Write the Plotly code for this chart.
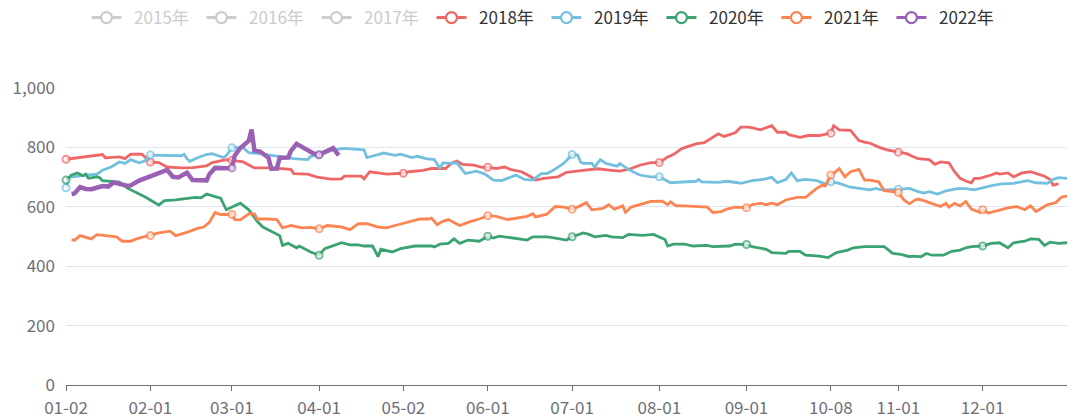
import plotly.graph_objects as go

# ---------------- data ----------------
label_days = ["01-02", "02-01", "03-01", "04-01", "05-02", "06-01",
              "07-01", "08-01", "09-01", "10-08", "11-01", "12-01"]

hidden_years = ["2015年", "2016年", "2017年"]

d2018 = ["01-02", "01-15", "01-16", "01-21", "01-23", "01-25", "01-29", "01-31",
         "02-01", "02-04", "02-07", "02-12", "02-16", "02-21", "02-23", "02-28",
         "03-01", "03-05", "03-09", "03-15", "03-22", "03-23", "03-28", "03-31",
         "04-05", "04-09", "04-10", "04-16", "04-17", "04-19", "04-22", "04-25",
         "05-02", "05-04", "05-09", "05-12", "05-17", "05-19", "05-21", "05-23", "05-27", "05-30",
         "06-01", "06-04", "06-07", "06-09", "06-13", "06-16", "06-18", "06-21", "06-26", "06-29",
         "07-05", "07-10", "07-15", "07-18", "07-22", "07-25", "07-29",
         "08-01", "08-04", "08-06", "08-09", "08-12", "08-14", "08-17", "08-19", "08-22", "08-24", "08-28", "08-30",
         "09-02", "09-06", "09-10", "09-12", "09-15", "09-16", "09-20", "09-23", "09-27", "09-30",
         "10-08", "10-09", "10-11", "10-15", "10-16", "10-18", "10-20", "10-22", "10-25", "10-28",
         "11-01", "11-04", "11-06", "11-08", "11-12", "11-14", "11-16", "11-19", "11-21", "11-23", "11-25", "11-27", "11-28", "11-30",
         "12-04", "12-06", "12-07", "12-10", "12-12", "12-15", "12-18", "12-21", "12-23", "12-25", "12-26", "12-28"]
v2018 = [760, 776, 765, 768, 762, 777, 777, 759,
         751, 749, 734, 731, 732, 738, 749, 759,
         757, 751, 731, 731, 726, 712, 710, 701,
         693, 694, 703, 703, 694, 718, 714, 710,
         713, 718, 723, 729, 729, 746, 754, 743, 740, 733,
         733, 729, 734, 726, 718, 703, 690, 696, 701, 716,
         723, 728, 723, 720, 729, 740, 749,
         749, 768, 776, 796, 807, 812, 816, 829, 846, 837, 849, 868,
         868, 859, 873, 851, 851, 843, 834, 840, 840, 846,
         848, 873, 859, 857, 846, 823, 818, 814, 801, 792,
         784, 779, 770, 762, 759, 743, 751, 748, 718, 696, 687, 681, 696, 696,
         707, 714, 710, 714, 701, 714, 718, 710, 703, 692, 673, 677]

d2019 = ["01-02", "01-03", "01-09", "01-13", "01-15", "01-18", "01-21", "01-23", "01-25", "01-28", "01-30",
         "02-01", "02-12", "02-13", "02-14", "02-15", "02-18", "02-21", "02-23", "02-27", "02-28",
         "03-01", "03-05", "03-07", "03-11", "03-15", "03-19", "03-23", "03-28", "03-29",
         "04-01", "04-05", "04-09", "04-11", "04-17", "04-18", "04-21", "04-24", "04-28", "04-30",
         "05-05", "05-07", "05-10", "05-13", "05-15", "05-16", "05-19", "05-21", "05-24", "05-28", "05-31",
         "06-03", "06-06", "06-09", "06-11", "06-14", "06-17", "06-20", "06-22", "06-24", "06-28",
         "07-01", "07-03", "07-04", "07-05", "07-08", "07-09", "07-11", "07-13", "07-17", "07-18", "07-21", "07-25", "07-29",
         "08-01", "08-05", "08-10", "08-14", "08-15", "08-16", "08-22", "08-25", "08-29", "08-30",
         "09-03", "09-07", "09-10", "09-12", "09-15", "09-17", "09-19", "09-22", "09-26", "09-29",
         "10-08", "10-11", "10-15", "10-18", "10-22", "10-24", "10-26",
         "11-01", "11-05", "11-08", "11-10", "11-12", "11-15", "11-18", "11-22", "11-25", "11-28",
         "12-02", "12-05", "12-08", "12-12", "12-17", "12-20", "12-24", "12-26", "12-28", "12-31"]
v2019 = [664, 699, 707, 710, 723, 734, 751, 746, 759, 748, 754,
         774, 772, 777, 762, 753, 766, 776, 779, 766, 772,
         799, 799, 782, 779, 773, 766, 762, 759, 770,
         775, 788, 796, 796, 792, 766, 773, 781, 773, 777,
         766, 770, 762, 759, 729, 748, 746, 748, 712, 720, 710,
         690, 688, 699, 707, 692, 690, 712, 712, 721, 746,
         776, 774, 751, 746, 746, 734, 759, 746, 737, 746, 726, 707, 701,
         701, 681, 684, 686, 692, 684, 682, 686, 681, 679,
         688, 692, 699, 681, 692, 714, 688, 692, 688, 677,
         684, 679, 666, 662, 657, 662, 657,
         659, 662, 651, 646, 651, 643, 654, 661, 661, 657,
         666, 673, 677, 679, 688, 681, 679, 692, 698, 696]

d2020 = ["01-02", "01-04", "01-06", "01-08", "01-09", "01-10", "01-13", "01-14", "01-15", "01-19", "01-21", "01-24", "01-30",
         "02-04", "02-06", "02-10", "02-14", "02-17", "02-19", "02-21", "02-24", "02-26", "02-28",
         "03-02", "03-04", "03-07", "03-10", "03-12", "03-16", "03-18", "03-19", "03-21", "03-24", "03-25", "03-29",
         "04-01", "04-03", "04-06", "04-09", "04-12", "04-15", "04-17", "04-20", "04-22", "04-23", "04-27", "04-30",
         "05-06", "05-12", "05-13", "05-15", "05-18", "05-20", "05-22", "05-25", "05-29",
         "06-01", "06-03", "06-05", "06-10", "06-15", "06-17", "06-22", "06-24", "06-29",
         "07-01", "07-05", "07-07", "07-09", "07-13", "07-15", "07-19", "07-21", "07-26", "07-30",
         "08-03", "08-04", "08-06", "08-10", "08-13", "08-18", "08-20", "08-26", "08-28",
         "09-01", "09-03", "09-08", "09-10", "09-13", "09-15", "09-16", "09-20", "09-22", "09-27", "09-30",
         "10-10", "10-14", "10-16", "10-20", "10-24", "10-27", "10-30",
         "11-02", "11-05", "11-06", "11-09", "11-11", "11-13", "11-17", "11-20", "11-23", "11-25", "11-27",
         "12-01", "12-04", "12-07", "12-10", "12-12", "12-16", "12-18", "12-21", "12-23", "12-25", "12-28", "12-31"]
v2020 = [690, 707, 714, 705, 710, 696, 701, 698, 688, 683, 683, 662, 634,
         606, 621, 623, 628, 632, 630, 643, 634, 629, 590,
         603, 612, 590, 551, 532, 514, 503, 470, 477, 462, 468, 448,
         437, 459, 468, 479, 472, 472, 468, 468, 432, 457, 448, 459,
         468, 468, 465, 474, 477, 492, 477, 488, 484,
         501, 495, 501, 495, 488, 499, 499, 496, 488,
         499, 512, 507, 499, 504, 499, 496, 507, 504, 507,
         490, 468, 474, 474, 468, 470, 466, 468, 474,
         473, 466, 457, 446, 443, 443, 450, 450, 437, 434, 429,
         446, 454, 462, 466, 466, 466, 443,
         440, 432, 434, 432, 443, 437, 437, 450, 454, 462, 466,
         468, 477, 479, 462, 479, 484, 492, 490, 470, 481, 477, 479]

d2021 = ["01-04", "01-05", "01-07", "01-11", "01-13", "01-17", "01-20", "01-22", "01-25", "01-27",
         "02-01", "02-04", "02-08", "02-10", "02-14", "02-18", "02-20", "02-22", "02-24", "02-26",
         "03-01", "03-02", "03-04", "03-07", "03-09", "03-10", "03-14", "03-17", "03-19", "03-22", "03-26", "03-29",
         "04-01", "04-04", "04-09", "04-12", "04-15", "04-18", "04-22", "04-25", "04-28", "04-30",
         "05-04", "05-08", "05-11", "05-12", "05-14", "05-16", "05-18", "05-22", "05-26", "05-29",
         "06-01", "06-04", "06-08", "06-11", "06-15", "06-17", "06-18", "06-22", "06-25", "06-28",
         "07-01", "07-04", "07-06", "07-08", "07-12", "07-14", "07-16", "07-19", "07-20", "07-22", "07-25", "07-29",
         "08-02", "08-04", "08-05", "08-07", "08-10", "08-14", "08-18", "08-20", "08-23", "08-25", "08-28",
         "09-01", "09-03", "09-06", "09-08", "09-10", "09-12", "09-15", "09-19", "09-22", "09-26", "09-28", "09-29",
         "10-08", "10-09", "10-11", "10-13", "10-15", "10-18", "10-20", "10-22", "10-25", "10-27", "10-30",
         "11-01", "11-03", "11-05", "11-07", "11-08", "11-10", "11-13", "11-16", "11-18", "11-19", "11-21", "11-23", "11-25", "11-27", "11-30",
         "12-01", "12-03", "12-07", "12-10", "12-13", "12-16", "12-18", "12-20", "12-24", "12-27", "12-29", "12-31"]
v2021 = [490, 487, 503, 492, 506, 501, 499, 484, 484, 492,
         503, 512, 518, 503, 514, 528, 532, 548, 581, 574,
         574, 557, 556, 576, 576, 559, 559, 557, 529, 537, 529, 531,
         526, 537, 532, 523, 543, 543, 532, 529, 537, 542,
         551, 559, 559, 562, 540, 551, 557, 537, 551, 559,
         570, 568, 557, 562, 568, 577, 566, 575, 601, 599,
         592, 604, 614, 590, 595, 607, 592, 603, 581, 599, 607, 618,
         619, 607, 617, 603, 603, 601, 599, 581, 584, 592, 599,
         597, 607, 612, 607, 612, 607, 623, 632, 632, 662, 673, 670,
         707, 712, 729, 701, 718, 726, 690, 690, 684, 654, 651,
         648, 623, 610, 623, 626, 621, 612, 601, 612, 599, 612, 603, 618, 592, 581,
         590, 579, 590, 596, 601, 590, 603, 584, 607, 614, 632, 637]

d2022 = ["01-04", "01-05", "01-07", "01-09", "01-11", "01-13", "01-15", "01-17", "01-19", "01-21", "01-24", "01-25", "01-28",
         "02-07", "02-09", "02-11", "02-14", "02-16", "02-21", "02-22", "02-24", "02-28",
         "03-01", "03-02", "03-03", "03-04", "03-07", "03-08", "03-09", "03-11", "03-14", "03-15", "03-17", "03-18",
         "03-21", "03-22", "03-24", "03-28", "03-30",
         "04-01", "04-04", "04-06", "04-08"]
v2022 = [643, 645, 666, 660, 659, 664, 670, 668, 682, 677, 670, 672, 688,
         724, 701, 699, 715, 690, 689, 710, 731, 730,
         731, 772, 787, 798, 822, 860, 790, 786, 765, 728, 729, 765,
         766, 788, 812, 792, 780,
         775, 789, 798, 773]

series = [
    ("2018年", d2018, v2018, "#ee6666", 2.8),
    ("2019年", d2019, v2019, "#73c0de", 2.8),
    ("2020年", d2020, v2020, "#3ba272", 2.8),
    ("2021年", d2021, v2021, "#fc8452", 2.8),
    ("2022年", d2022, v2022, "#9a60b4", 4.5),
]

YEAR = "2020-"  # dummy leap year used to place month-day categories
FONT = "Noto Sans CJK SC, Noto Sans, sans-serif"
AXIS_GREY = "#6E7079"
PAD = "\u00a0\u00a0"


def legend_label(text, color=None):
    if color:
        return f"{PAD}<span style='color:{color}'>{text}</span>{PAD}"
    return f"{PAD}{text}{PAD}"


fig = go.Figure()

# hidden (deselected) legend entries
for name in hidden_years:
    fig.add_trace(go.Scatter(
        x=[None], y=[None], mode="lines+markers",
        name=legend_label(name, "#cccccc"),
        line=dict(color="#cccccc", width=3),
        marker=dict(symbol="circle", size=11, color="white",
                    line=dict(color="#cccccc", width=2.2)),
        hoverinfo="skip"))

for name, days, vals, color, lw in series:
    sizes = [7 if d in label_days else 0 for d in days]
    mlw = [2 if d in label_days else 0 for d in days]
    fig.add_trace(go.Scatter(
        x=[YEAR + d for d in days], y=vals, mode="lines+markers",
        name=name, legendgroup=name, showlegend=False,
        cliponaxis=False,
        line=dict(color=color, width=lw),
        marker=dict(symbol="circle", size=sizes, color="white",
                    line=dict(color=color, width=mlw))))
    # legend entry
    fig.add_trace(go.Scatter(
        x=[None], y=[None], mode="lines+markers",
        name=legend_label(name), legendgroup=name, showlegend=True,
        line=dict(color=color, width=3),
        marker=dict(symbol="circle", size=11, color="white",
                    line=dict(color=color, width=2.2)),
        hoverinfo="skip"))

fig.update_layout(
    width=1080, height=420,
    margin=dict(l=66, r=13, t=88, b=35, autoexpand=False),
    paper_bgcolor="white", plot_bgcolor="white",
    font=dict(family=FONT, size=16, color="#333333"),
    showlegend=True,
    legend=dict(orientation="h", xref="container", x=0.506, xanchor="center",
                yref="container", y=1.0, yanchor="top",
                font=dict(family=FONT, size=17, color="#333333"),
                itemwidth=30, bgcolor="rgba(0,0,0,0)"),
    xaxis=dict(
        type="date",
        automargin=False,
        range=[YEAR + "01-02", YEAR + "12-31"],
        rangebreaks=[dict(bounds=[YEAR + "05-01", YEAR + "05-02"]),
                     dict(bounds=[YEAR + "10-01", YEAR + "10-08"])],
        tickvals=[YEAR + d for d in label_days],
        ticktext=label_days,
        ticks="outside", ticklen=5, tickcolor=AXIS_GREY, tickwidth=1,
        showline=True, linecolor=AXIS_GREY, linewidth=1,
        showgrid=False, zeroline=False,
        ticklabelstandoff=3,
        tickfont=dict(family=FONT, size=17, color=AXIS_GREY),
    ),
    yaxis=dict(
        automargin=False,
        range=[0, 1000],
        tickvals=[0, 200, 400, 600, 800, 1000],
        tickformat=",d",
        showgrid=True, gridcolor="#E0E6F1", gridwidth=1,
        zeroline=False, showline=False, ticks="",
        ticklabelstandoff=10,
        tickfont=dict(family=FONT, size=17, color=AXIS_GREY),
    ),
    hovermode="closest",
)

fig.write_html("out.html")
